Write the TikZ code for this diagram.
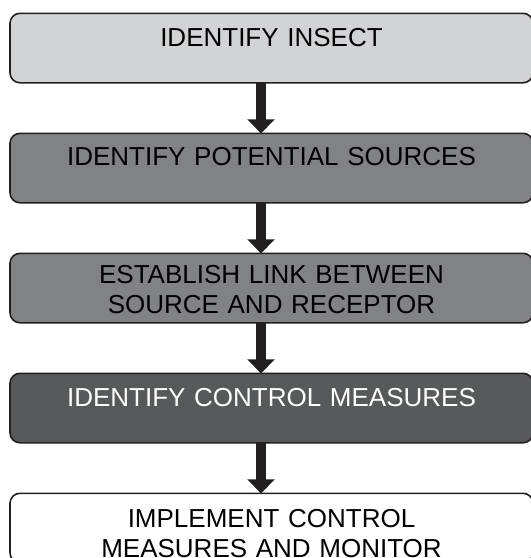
\documentclass[tikz,border=0pt]{standalone}
\usepackage{fontspec}
\setmainfont{Liberation Sans}
\usetikzlibrary{positioning,arrows.meta}

\definecolor{boxline}{HTML}{231F20}
\definecolor{lightgrey}{HTML}{D1D3D4}
\definecolor{midgrey}{HTML}{808285}
\definecolor{darkgrey}{HTML}{58595B}

\begin{document}
\begin{tikzpicture}[x=1pt, y=1pt,
        stagebox/.style={rectangle, rounded corners=10pt, draw=boxline, line width=1.6pt, inner sep=0pt, outer sep=0pt,
            text width=523pt, align=center, text height=33.5pt, text depth=36pt,
            font=\fontsize{26}{30}\selectfont},
        flow/.style={draw=boxline, line width=10pt, -{Triangle[width=27pt, length=14pt]}}]

        \useasboundingbox (0,0) rectangle (531,-558);

        \node[stagebox, fill=lightgrey, anchor=north] (insect) at (271.5,-13.3) {IDENTIFY INSECT};
        \node[stagebox, fill=midgrey, text height=32.5pt, text depth=37pt] (sources) [below=50.5pt of insect] {IDENTIFY POTENTIAL SOURCES};
        \node[stagebox, fill=midgrey, text height=30pt, text depth=39.5pt] (link) [below=50.5pt of sources] {ESTABLISH LINK BETWEEN\\SOURCE AND RECEPTOR};
        \node[stagebox, fill=darkgrey, text=white] (control) [below=50.5pt of link] {IDENTIFY CONTROL MEASURES};
        \node[stagebox, fill=white, text height=34.5pt, text depth=35pt] (monitor) [below=50.5pt of control] {IMPLEMENT CONTROL\\MEASURES AND MONITOR};

        \draw[flow] ([xshift=-10.5pt]insect.south) -- ([xshift=-10.5pt]sources.north);
        \draw[flow] ([xshift=-10.5pt]sources.south) -- ([xshift=-10.5pt]link.north);
        \draw[flow] ([xshift=-10.5pt]link.south) -- ([xshift=-10.5pt]control.north);
        \draw[flow] ([xshift=-10.5pt]control.south) -- ([xshift=-10.5pt]monitor.north);

        \end{tikzpicture}
\end{document}
